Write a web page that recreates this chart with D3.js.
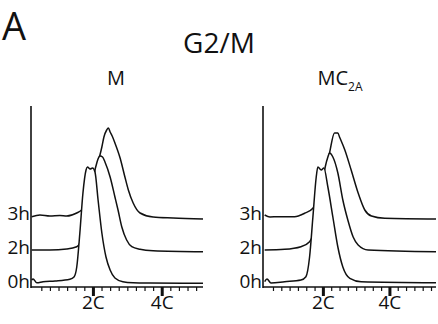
<!DOCTYPE html>
<html>
<head>
<meta charset="utf-8">
<script src="https://cdn.jsdelivr.net/npm/d3@7"></script>
<style>
  body { margin: 0; background: #fff; }
  text { font-family: "Open Sans", "Noto Sans", sans-serif; fill: #111; }
</style>
</head>
<body>
<div id="chart-area"></div>
<script>
const width = 438;
const height = 324;

// datos: [contenido de ADN (C), cuentas]
const timeLabels = ["3h", "2h", "0h"];
const offsets = [68, 34, 0];
const tickValues = [2, 4];
const tickLabels = ["2C", "4C"];
const panelTitles = ["M", "MC"];

const m3h = [[0.22,2.3],[0.46,4],[0.75,3],[1.04,3.5],[1.24,3],[1.53,6],[1.67,9],[1.92,24],[2.09,49],[2.26,72],[2.32,82],[2.4,89],[2.45,91],[2.5,87],[2.56,83],[2.64,76],[2.79,61],[2.93,42],[3.03,29],[3.17,16],[3.37,6],[3.75,2],[4.33,1],[5.2,0]];
const m2h = [[0.22,3],[0.75,3],[1.24,4],[1.53,6.3],[1.62,10],[1.77,28],[1.92,53],[2.03,78],[2.12,91],[2.16,95],[2.21,97],[2.28,96],[2.35,91],[2.5,76],[2.64,56],[2.73,43],[2.84,26],[2.98,13],[3.13,6.3],[3.37,3.7],[3.75,2.3],[5.2,1.3]];
const m0h = [[0.22,7],[0.26,8],[0.37,4.3],[0.55,5.3],[0.9,6],[1.33,7.7],[1.45,10],[1.53,20],[1.62,54],[1.71,94],[1.8,117],[1.84,120],[1.92,118],[1.99,119],[2.06,115],[2.15,87],[2.26,54],[2.38,30],[2.5,17],[2.64,9],[2.87,5.3],[3.17,4.3],[3.66,4],[5.2,3.7]];

const mc3h = [[0.25,4],[0.41,2],[0.65,2.3],[1.15,2.3],[1.45,5.7],[1.7,10.7],[1.91,24],[2.09,49],[2.2,66],[2.35,86],[2.45,86],[2.5,82],[2.66,69],[2.85,49],[3.06,26],[3.26,9],[3.46,3],[3.86,0.7],[5.4,0]];
const mc2h = [[0.25,3],[0.85,3.7],[1.34,6.3],[1.6,11.3],[1.79,28],[1.94,58],[2.07,86],[2.15,96],[2.2,100],[2.3,96],[2.45,80],[2.6,53],[2.75,33],[2.91,16],[3.06,8],[3.36,3],[5.4,1.3]];
const mc0h = [[0.25,5.3],[0.32,8],[0.44,4],[0.85,5.3],[1.34,7],[1.49,10.3],[1.6,30],[1.7,70],[1.8,110],[1.85,120],[1.95,117],[2.03,119],[2.15,100],[2.3,70],[2.45,40],[2.6,20],[2.81,8.7],[3.15,5.3],[5.4,4.3]];

const panels = [
  {title: panelTitles[0], sub: "", series: [m3h, m2h, m0h], domain: [0.2, 5.2], range: [31, 203], titleX: 116},
  {title: panelTitles[1], sub: "2A", series: [mc3h, mc2h, mc0h], domain: [0.2, 5.4], range: [263, 436], titleX: 340}
];

const svg = d3.select("#chart-area")
  .append("svg")
  .attr("width", width)
  .attr("height", height);

// etiquetas generales
svg.append("text").attr("x", 2).attr("y", 40).attr("font-size", "38px").text("A");
svg.append("text").attr("x", 219).attr("y", 53).attr("font-size", "28px")
  .attr("text-anchor", "middle").text("G2/M");

const y = d3.scaleLinear().domain([0, 181]).range([287, 106]);

panels.forEach((p) => {
  const x = d3.scaleLinear().domain(p.domain).range(p.range);
  const g = svg.append("g");

  // titulo del panel
  const t = g.append("text").attr("x", p.titleX).attr("y", 85)
    .attr("font-size", "20px").attr("text-anchor", "middle").text(p.title);
  if (p.sub) {
    t.append("tspan").attr("font-size", "12px").attr("dy", 6).text(p.sub);
  }

  // curvas (de atras hacia delante, relleno blanco)
  p.series.forEach((s, i) => {
    const off = offsets[i];
    const area = d3.area()
      .x((d) => x(d[0]))
      .y0(y(0))
      .y1((d) => y(d[1] + off))
      .curve(d3.curveMonotoneX);
    const line = d3.line()
      .x((d) => x(d[0]))
      .y((d) => y(d[1] + off))
      .curve(d3.curveMonotoneX);
    g.append("path").datum(s).attr("d", area).attr("fill", "#fff");
    g.append("path").datum(s).attr("d", line)
      .attr("fill", "none").attr("stroke", "#111").attr("stroke-width", 1.5);

    g.append("text")
      .attr("x", p.range[0] - 1)
      .attr("y", y(off) + 0.5)
      .attr("font-size", "19px")
      .attr("text-anchor", "end")
      .text(timeLabels[i]);
  });

  // eje Y
  g.append("line")
    .attr("x1", p.range[0]).attr("x2", p.range[0])
    .attr("y1", y.range()[1]).attr("y2", y(0) + 1)
    .attr("stroke", "#111").attr("stroke-width", 1.6);

  // eje X
  const minor = d3.range(0.5, p.domain[1], 0.25).filter((v) => v !== 2 && v !== 4);
  const axisMinor = d3.axisBottom(x).tickValues(minor).tickSize(4).tickFormat("");
  const xg = g.append("g").attr("transform", `translate(0, ${y(0)})`).call(axisMinor);
  xg.select(".domain").attr("d", `M${p.range[0]},0H${p.range[1]}`)
    .attr("stroke", "#111").attr("stroke-width", 1.6);
  xg.selectAll(".tick line").attr("stroke", "#111").attr("stroke-width", 1.2);

  const axisMajor = d3.axisBottom(x).tickValues(tickValues).tickSize(9)
    .tickFormat((d, i) => tickLabels[i]);
  const xm = g.append("g").attr("transform", `translate(0, ${y(0)})`).call(axisMajor);
  xm.select(".domain").remove();
  xm.selectAll(".tick line").attr("stroke", "#111").attr("stroke-width", 3);
  xm.selectAll(".tick text").attr("font-size", "19px").attr("dy", "0.55em")
    .attr("fill", "#111").attr("font-family", "Open Sans, sans-serif");
});
</script>
</body>
</html>
